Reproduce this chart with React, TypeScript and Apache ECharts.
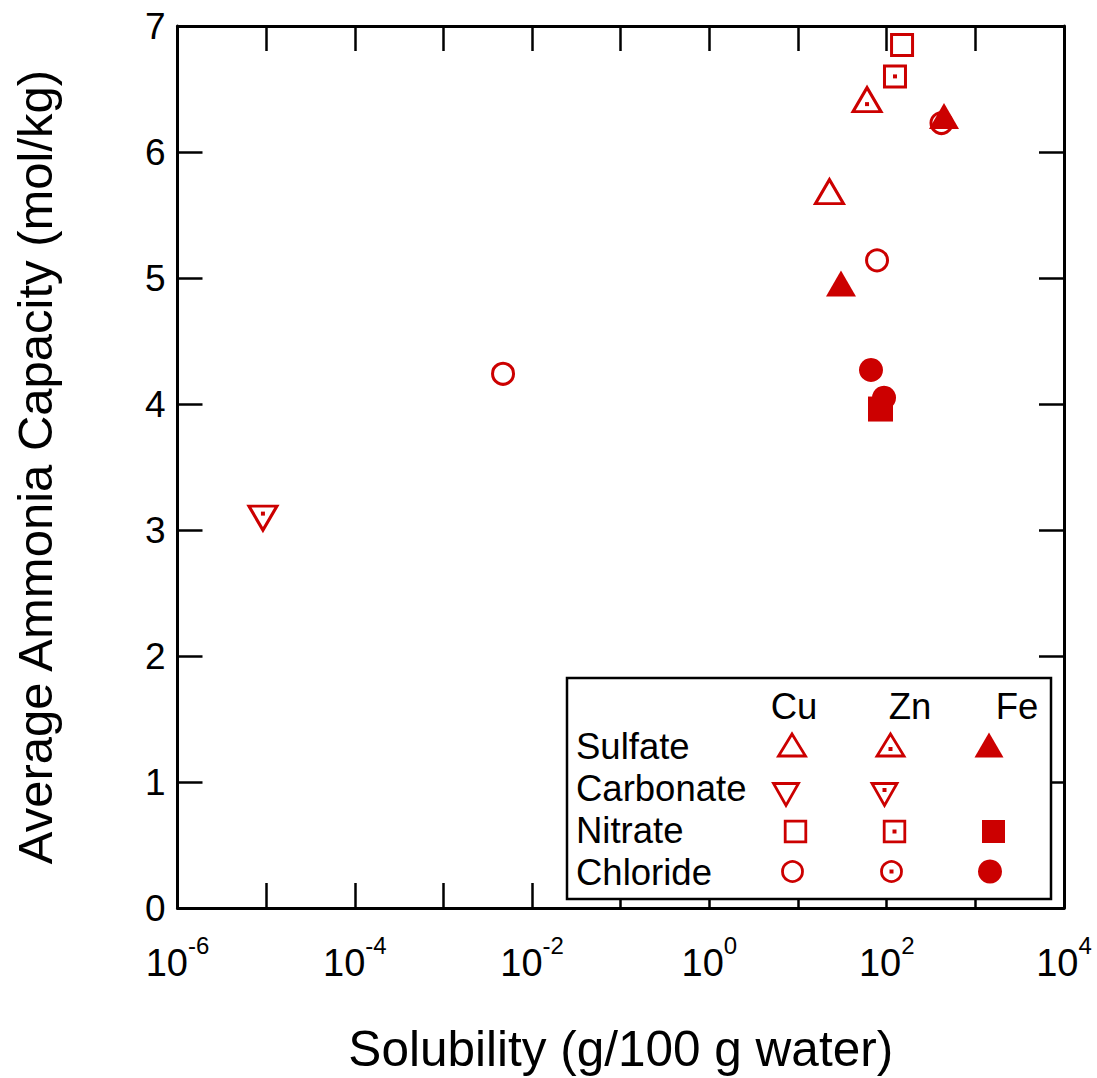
import React, { useEffect, useRef } from 'react';
import * as echarts from 'echarts';

const RED = '#CC0000';
const FONT = '"Liberation Sans", Arial, Helvetica, sans-serif';

// ---- data: [solubility (g/100 g water), average ammonia capacity (mol/kg)] ----
const cuSulfate = [[22.6, 5.65]];
const znSulfate = [[60, 6.38]];
const feSulfate = [[30.5, 4.92], [443, 6.25]];
const znCarbonate = [[9.2e-6, 3.13]];
const cuNitrate = [[149, 6.85]];
const znNitrate = [[124, 6.6]];
const feNitrate = [[85.1, 3.96]];
const cuChloride = [[0.0047, 4.24], [77.8, 5.14]];
const znChloride = [[415, 6.23]];
const feChloride = [[66.5, 4.27], [93.3, 4.05]];

const xLabelExponents = [-6, -4, -2, 0, 2, 4];
const legendRows = ['Sulfate', 'Carbonate', 'Nitrate', 'Chloride'];
const legendCols = ['Cu', 'Zn', 'Fe'];

const DOWN_TRI = 'path://M0,0L20,0L10,17.32Z';

function openSeries(name: string, data: number[][], symbol: string, size: any, offset: number[] = [0, 0]) {
  return {
    type: 'scatter', name, data, symbol, symbolSize: size, symbolOffset: offset,
    itemStyle: { color: 'transparent', borderColor: RED, borderWidth: 3, opacity: 1 },
    emphasis: { disabled: true }, z: 3,
  };
}
function filledSeries(name: string, data: number[][], symbol: string, size: any, offset: number[] = [0, 0]) {
  return {
    type: 'scatter', name, data, symbol, symbolSize: size, symbolOffset: offset,
    itemStyle: { color: RED, borderWidth: 0, opacity: 1 },
    emphasis: { disabled: true }, z: 3,
  };
}

function triPts(cx: number, cy: number, w: number, h: number, down = false) {
  return down
    ? [[cx - w / 2, cy - h / 2], [cx + w / 2, cy - h / 2], [cx, cy + h / 2]]
    : [[cx, cy - h / 2], [cx + w / 2, cy + h / 2], [cx - w / 2, cy + h / 2]];
}

function buildLegend() {
  const Z = 50;
  const openStyle = { fill: 'none', stroke: RED, lineWidth: 2.8, lineJoin: 'miter' };
  const fillStyle = { fill: RED };
  const els: any[] = [];
  els.push({
    type: 'rect', z: Z, shape: { x: 567, y: 678, width: 484, height: 221 },
    style: { fill: '#fff', stroke: '#000', lineWidth: 2.5 },
  });
  const rowY = [746, 788, 830, 872];
  legendRows.forEach((t, i) => {
    els.push({
      type: 'text', z: Z + 1, x: 576, y: rowY[i],
      style: { text: t, fontSize: 36.5, fontFamily: FONT, fill: '#000', verticalAlign: 'middle', align: 'left' },
    });
  });
  const colX = [794, 910, 1017];
  legendCols.forEach((t, i) => {
    els.push({
      type: 'text', z: Z + 1, x: colX[i], y: 706,
      style: { text: t, fontSize: 36.5, fontFamily: FONT, fill: '#000', verticalAlign: 'middle', align: 'center' },
    });
  });
  const dot = (x: number, y: number) => ({
    type: 'rect', z: Z + 2, shape: { x: x - 2, y: y - 2, width: 4, height: 4 }, style: fillStyle,
  });
  // Cu column (open)
  els.push({ type: 'polygon', z: Z + 1, shape: { points: triPts(792, 745, 27, 22) }, style: openStyle });
  els.push({ type: 'polygon', z: Z + 1, shape: { points: triPts(786, 794.5, 25, 22, true) }, style: openStyle });
  els.push({ type: 'rect', z: Z + 1, shape: { x: 795.5 - 10.3, y: 831.5 - 10.3, width: 20.6, height: 20.6 }, style: openStyle });
  els.push({ type: 'circle', z: Z + 1, shape: { cx: 792.5, cy: 871.5, r: 10 }, style: openStyle });
  // Zn column (open + dot)
  els.push({ type: 'polygon', z: Z + 1, shape: { points: triPts(890.5, 745, 27, 22) }, style: openStyle });
  els.push(dot(890.5, 749));
  els.push({ type: 'polygon', z: Z + 1, shape: { points: triPts(884.5, 794.5, 25, 22, true) }, style: openStyle });
  els.push(dot(884.5, 790));
  els.push({ type: 'rect', z: Z + 1, shape: { x: 894.5 - 10.3, y: 831.5 - 10.3, width: 20.6, height: 20.6 }, style: openStyle });
  els.push(dot(894.5, 831.5));
  els.push({ type: 'circle', z: Z + 1, shape: { cx: 891.5, cy: 871.5, r: 10 }, style: openStyle });
  els.push(dot(891.5, 871.5));
  // Fe column (filled)
  els.push({ type: 'polygon', z: Z + 1, shape: { points: triPts(989, 745, 29, 25) }, style: fillStyle });
  els.push({ type: 'rect', z: Z + 1, shape: { x: 993.5 - 11.5, y: 831.5 - 11.5, width: 23, height: 23 }, style: fillStyle });
  els.push({ type: 'circle', z: Z + 1, shape: { cx: 990, cy: 871.5, r: 12 }, style: fillStyle });
  return els;
}

export default function App() {
  const ref = useRef<HTMLDivElement>(null);
  useEffect(() => {
    document.body.style.margin = '0';
    const chart = echarts.init(ref.current!, null, { renderer: 'svg' });
    const axisLine = { show: true, onZero: false, lineStyle: { color: '#000', width: 3 } };
    const axisTick = { show: true, inside: true, length: 25, lineStyle: { color: '#000', width: 2.5 } };
    const zDots = [...znSulfate, ...znCarbonate, ...znNitrate, ...znChloride];
    const option: any = {
      animation: false,
      backgroundColor: '#fff',
      textStyle: { fontFamily: FONT },
      grid: { left: 177.5, right: 33, top: 26, bottom: 166, containLabel: false },
      xAxis: [
        {
          type: 'log', logBase: 10, min: 1e-6, max: 1e4, interval: 1, splitNumber: 10, position: 'bottom',
          axisLine, axisTick, splitLine: { show: false }, minorTick: { show: false },
          name: 'Solubility (g/100 g water)', nameLocation: 'middle', nameGap: 115,
          nameTextStyle: { fontSize: 49.5, color: '#000', fontFamily: FONT },
          axisLabel: {
            margin: 36, color: '#000',
            formatter: (v: number) => {
              const e = Math.round(Math.log10(v));
              return xLabelExponents.includes(e) ? `{b|10}{s|${e}}` : '';
            },
            rich: {
              b: { fontSize: 38, lineHeight: 38, fontFamily: FONT, color: '#000', verticalAlign: 'middle' },
              s: { fontSize: 24, lineHeight: 24, fontFamily: FONT, color: '#000', verticalAlign: 'middle', padding: [0, 0, 35, 0] },
            },
          },
        },
        {
          type: 'log', logBase: 10, min: 1e-6, max: 1e4, interval: 1, splitNumber: 10, position: 'top',
          axisLine, axisTick, splitLine: { show: false }, axisLabel: { show: false },
        },
      ],
      yAxis: [
        {
          type: 'value', min: 0, max: 7, interval: 1, position: 'left',
          axisLine, axisTick, splitLine: { show: false },
          name: 'Average Ammonia Capacity (mol/kg)', nameLocation: 'middle', nameGap: 118,
          nameTextStyle: { fontSize: 49, color: '#000', fontFamily: FONT },
          axisLabel: { fontSize: 37, color: '#000', margin: 12, fontFamily: FONT },
        },
        {
          type: 'value', min: 0, max: 7, interval: 1, position: 'right',
          axisLine, axisTick, splitLine: { show: false }, axisLabel: { show: false },
        },
      ],
      series: [
        openSeries('Cu chloride', cuChloride, 'circle', 21),
        openSeries('Zn chloride', znChloride, 'circle', 21),
        filledSeries('Fe chloride', feChloride, 'circle', 24),
        filledSeries('Fe nitrate', feNitrate, 'rect', 25),
        openSeries('Cu nitrate', cuNitrate, 'rect', 21),
        openSeries('Zn nitrate', znNitrate, 'rect', 21),
        openSeries('Cu sulfate', cuSulfate, 'triangle', [28, 24], [0, -4.5]),
        openSeries('Zn sulfate', znSulfate, 'triangle', [28, 24], [0, -4.5]),
        filledSeries('Fe sulfate', feSulfate, 'triangle', [30, 26], [0, -4.5]),
        openSeries('Zn carbonate', znCarbonate, DOWN_TRI, [28, 24], [0, 4.5]),
        {
          type: 'scatter', name: 'Zn dot', data: zDots, symbol: 'rect', symbolSize: 4,
          itemStyle: { color: RED, opacity: 1 }, emphasis: { disabled: true }, z: 4,
        },
      ],
      graphic: buildLegend(),
    };
    chart.setOption(option);
    return () => chart.dispose();
  }, []);
  return <div ref={ref} style={{ width: 1097, height: 1078 }} />;
}
